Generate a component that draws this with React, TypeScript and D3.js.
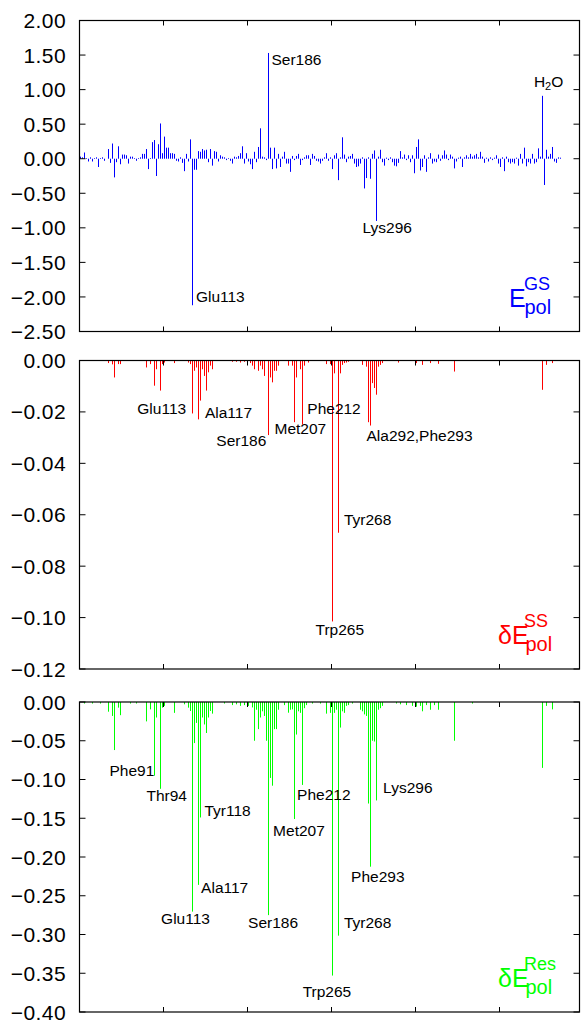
import * as d3 from "d3";

// ground-state polarization per residue (bar index order)
const gsValues = [
  0.03, 0.02, 0.09, 0.01, -0.04, 0.02, -0.04, 0.01, 0.02, -0.12,
  0.01, 0.02, -0.03, 0.0, 0.14, -0.06, 0.22, -0.27, -0.05, 0.18,
  -0.08, 0.06, 0.06, 0.05, -0.07, 0.03, 0.03, 0.01, -0.03, 0.01,
  0.02, 0.07, 0.07, 0.14, -0.15, 0.01, 0.24, 0.27, -0.25, 0.21,
  0.51, 0.08, 0.32, 0.16, 0.16, 0.08, 0.08, 0.07, -0.03, -0.04,
  0.02, -0.06, -0.18, 0.07, -0.04, 0.28, -2.12, -0.16, -0.16, 0.11,
  0.1, 0.14, 0.12, 0.13, -0.05, 0.14, -0.1, 0.11, 0.1, -0.04,
  0.05, 0.03, 0.02, -0.02, 0.01, -0.03, -0.07, 0.03, 0.02, 0.04,
  0.08, 0.18, -0.07, 0.08, -0.04, -0.08, -0.15, 0.1, -0.05, 0.17,
  0.44, 0.03, 0.02, -0.02, 1.53, 0.16, -0.15, 0.16, -0.14, 0.07,
  -0.12, 0.03, 0.1, -0.07, -0.07, -0.19, 0.04, -0.02, 0.04, 0.07,
  -0.09, -0.02, 0.02, 0.05, 0.05, -0.09, 0.07, 0.04, -0.03, -0.04,
  -0.07, -0.03, 0.02, 0.08, -0.03, 0.02, -0.15, 0.05, 0.08, -0.31,
  0.02, 0.31, 0.06, -0.05, 0.03, 0.04, 0.07, -0.07, -0.12, -0.11,
  -0.07, 0.02, -0.43, -0.28, 0.02, -0.29, 0.07, 0.12, -0.9, 0.03,
  0.13, -0.05, -0.1, 0.015, -0.02, 0.02, -0.05, -0.1, -0.11, -0.06,
  0.11, 0.02, 0.06, -0.02, 0.05, -0.05, 0.05, -0.21, 0.17, 0.28,
  -0.17, -0.12, 0.05, -0.19, 0.02, 0.08, -0.07, -0.04, -0.05, 0.06,
  -0.03, 0.05, 0.12, 0.06, -0.02, 0.06, 0.03, -0.14, -0.04, 0.015,
  0.03, -0.12, 0.02, 0.05, 0.02, 0.07, 0.03, 0.05, 0.07, 0.02,
  0.1, 0.03, -0.06, 0.015, -0.04, 0.02, -0.02, 0.015, 0.05, -0.07,
  -0.12, 0.02, -0.18, 0.03, -0.05, -0.07, -0.05, -0.07, 0.015, -0.1,
  0.07, -0.07, 0.16, -0.11, -0.05, -0.07, 0.07, -0.07, -0.05, 0.15,
  0.03, 0.91, -0.38, 0.13, 0.03, 0.07, 0.17, -0.04, -0.06, 0.02,
  0.015,
];

// [bar index, value] — only non-zero bars
const ssBars: [number, number][] = [
  [14, -0.001], [16, -0.0015], [17, -0.0066], [19, -0.0014], [20, -0.0014],
  [33, -0.0027], [35, -0.0014], [37, -0.0098], [38, -0.0034], [40, -0.0117],
  [41, -0.0014], [42, -0.0008], [47, -0.001], [54, -0.0008], [55, -0.0014],
  [56, -0.0206], [57, -0.004], [58, -0.0027], [59, -0.0229], [60, -0.0156],
  [61, -0.0034], [62, -0.006], [63, -0.0117], [64, -0.0046], [65, -0.002],
  [66, -0.0034], [76, -0.0005], [78, -0.0005], [80, -0.0008], [82, -0.0005],
  [85, -0.001], [86, -0.002], [87, -0.0034], [89, -0.004], [90, -0.002],
  [91, -0.0034], [92, -0.006], [94, -0.029], [95, -0.0066], [96, -0.0085],
  [97, -0.004], [98, -0.004], [99, -0.002], [104, -0.002], [106, -0.002],
  [107, -0.024], [108, -0.0066], [110, -0.0034], [111, -0.0249], [112, -0.002],
  [114, -0.0008], [123, -0.0014], [125, -0.0014], [126, -0.1015], [127, -0.005],
  [129, -0.067], [130, -0.005], [131, -0.0017], [132, -0.001], [133, -0.0008],
  [134, -0.0005], [141, -0.0017], [143, -0.0024], [144, -0.024], [145, -0.0253],
  [146, -0.0088], [147, -0.0107], [148, -0.0133], [149, -0.0024], [150, -0.0017],
  [151, -0.001], [159, -0.0008], [168, -0.001], [171, -0.0017], [175, -0.001],
  [179, -0.0013], [187, -0.0043], [231, -0.0114], [233, -0.0017], [236, -0.001],
];

const resBars: [number, number][] = [
  [2, -0.002], [6, -0.002], [10, -0.002], [14, -0.0125], [16, -0.018],
  [17, -0.062], [19, -0.0073], [20, -0.017], [25, -0.002], [28, -0.002],
  [33, -0.025], [35, -0.0095], [37, -0.095], [38, -0.02], [40, -0.112],
  [41, -0.0073], [42, -0.005], [47, -0.014], [52, -0.003], [54, -0.0073],
  [55, -0.0116], [56, -0.2705], [57, -0.053], [58, -0.027], [59, -0.236],
  [60, -0.149], [61, -0.02], [62, -0.029], [63, -0.04], [64, -0.02],
  [65, -0.0116], [66, -0.015], [72, -0.002], [76, -0.004], [78, -0.003],
  [80, -0.005], [82, -0.004], [84, -0.005], [86, -0.007], [87, -0.05],
  [88, -0.01], [89, -0.035], [90, -0.02], [91, -0.012], [92, -0.018],
  [93, -0.05], [94, -0.275], [95, -0.098], [96, -0.108], [97, -0.035],
  [98, -0.035], [99, -0.01], [102, -0.004], [104, -0.0138], [105, -0.01],
  [106, -0.0095], [107, -0.151], [108, -0.042], [109, -0.012], [110, -0.014],
  [111, -0.107], [112, -0.008], [113, -0.004], [116, -0.002], [120, -0.002],
  [123, -0.015], [125, -0.014], [126, -0.353], [127, -0.014], [128, -0.01],
  [129, -0.3015], [130, -0.033], [131, -0.012], [132, -0.014], [133, -0.005],
  [134, -0.004], [136, -0.002], [140, -0.01], [141, -0.012], [142, -0.016],
  [143, -0.018], [144, -0.131], [145, -0.2125], [146, -0.05], [147, -0.051],
  [148, -0.127], [149, -0.01], [150, -0.008], [151, -0.005], [158, -0.002],
  [160, -0.003], [163, -0.004], [166, -0.005], [168, -0.006], [170, -0.005],
  [171, -0.012], [173, -0.004], [175, -0.01], [177, -0.004], [179, -0.01],
  [187, -0.05], [196, -0.002], [231, -0.085], [233, -0.005], [236, -0.0095],
];

const gsTicks = [2, 1.5, 1, 0.5, 0, -0.5, -1, -1.5, -2, -2.5];
const ssTicks = [0, -0.02, -0.04, -0.06, -0.08, -0.1, -0.12];
const resTicks = [0, -0.05, -0.1, -0.15, -0.2, -0.25, -0.3, -0.35, -0.4];
const xTicks = [41.5, 83.5, 125.5, 167.5, 209.5];

type Label = { text: string; i: number; v: number };

const gsLabels: Label[] = [
  { text: "Ser186", i: 95.5, v: 1.36 },
  { text: "Glu113", i: 57.7, v: -2.07 },
  { text: "Lys296", i: 141, v: -1.08 },
  { text: "H2O", i: 226.7, v: 1.04 },
];
const ssLabels: Label[] = [
  { text: "Glu113", i: 28.4, v: -0.021 },
  { text: "Ala117", i: 62.2, v: -0.0223 },
  { text: "Ser186", i: 67.9, v: -0.0333 },
  { text: "Met207", i: 97, v: -0.0287 },
  { text: "Phe212", i: 113.4, v: -0.021 },
  { text: "Ala292,Phe293", i: 143, v: -0.0313 },
  { text: "Tyr268", i: 131.7, v: -0.064 },
  { text: "Trp265", i: 117.5, v: -0.1068 },
];
const resLabels: Label[] = [
  { text: "Phe91", i: 14.5, v: -0.0961 },
  { text: "Thr94", i: 33, v: -0.1271 },
  { text: "Tyr118", i: 62, v: -0.1465 },
  { text: "Met207", i: 96.3, v: -0.1724 },
  { text: "Phe212", i: 108.3, v: -0.1262 },
  { text: "Ala117", i: 60.3, v: -0.2468 },
  { text: "Glu113", i: 40.3, v: -0.2864 },
  { text: "Ser186", i: 83.8, v: -0.292 },
  { text: "Trp265", i: 111.1, v: -0.3804 },
  { text: "Lys296", i: 151.3, v: -0.1168 },
  { text: "Phe293", i: 135.3, v: -0.2318 },
  { text: "Tyr268", i: 131.7, v: -0.292 },
];

const FONT = "'Liberation Sans', Arial, Helvetica, sans-serif";
const LEFT = 79.5;
const RIGHT = 579.5;

const x = d3.scaleLinear().domain([-0.5, 249.5]).range([LEFT, RIGHT]);
const fmt = d3.format(".2f");

interface PanelProps {
  bars: [number, number][];
  ticks: number[];
  top: number;
  bottom: number;
  color: string;
  labels: Label[];
  delta: boolean;
  sup: string;
}

function Panel({ bars, ticks, top, bottom, color, labels, delta, sup }: PanelProps) {
  const y = d3
    .scaleLinear()
    .domain([d3.min(ticks) as number, d3.max(ticks) as number])
    .range([bottom, top]);
  const y0 = y(0);
  const lx = RIGHT - (delta ? 81.5 : 70.5);
  const ly = bottom - (delta ? 25 : 24.5);

  return (
    <g>
      {bars.map(([i, v]) => (
        <line
          key={i}
          x1={x(i)}
          x2={x(i)}
          y1={y0}
          y2={y(v)}
          stroke={color}
          strokeWidth={1}
        />
      ))}
      <rect
        x={LEFT}
        y={top}
        width={RIGHT - LEFT}
        height={bottom - top}
        fill="none"
        stroke="#000"
        strokeWidth={1.2}
      />
      {ticks.map((t) => (
        <g key={t}>
          <line x1={LEFT} x2={LEFT + 6} y1={y(t)} y2={y(t)} stroke="#000" />
          <line x1={RIGHT - 6} x2={RIGHT} y1={y(t)} y2={y(t)} stroke="#000" />
          <text
            x={66}
            y={y(t)}
            dy="0.36em"
            textAnchor="end"
            fontSize={21}
            letterSpacing={0.4}
            fontFamily={FONT}
            fill="#000"
          >
            {fmt(t)}
          </text>
        </g>
      ))}
      {xTicks.map((t) => (
        <g key={t}>
          <line x1={x(t)} x2={x(t)} y1={top} y2={top + 5} stroke="#000" />
          <line x1={x(t)} x2={x(t)} y1={bottom - 5} y2={bottom} stroke="#000" />
        </g>
      ))}
      {labels.map((l) =>
        l.text === "H2O" ? (
          <text key={l.text} x={x(l.i)} y={y(l.v)} fontSize={15.5} fontFamily={FONT}>
            H<tspan fontSize={11} dy={3.5}>2</tspan>
            <tspan dy={-3.5}>O</tspan>
          </text>
        ) : (
          <text key={l.text} x={x(l.i)} y={y(l.v)} fontSize={15.5} fontFamily={FONT} fill="#000">
            {l.text}
          </text>
        ),
      )}
      <g fill={color} fontFamily={FONT}>
        <text x={lx} y={ly} fontSize={25}>
          {delta ? "δE" : "E"}
        </text>
        <text x={lx + (delta ? 26 : 15)} y={ly - 17} fontSize={18}>
          {sup}
        </text>
        <text x={lx + (delta ? 27.5 : 15.5)} y={ly + 6.5} fontSize={20}>
          pol
        </text>
      </g>
    </g>
  );
}

export default function App() {
  const gsBars: [number, number][] = gsValues.map((v, i) => [i, v]);
  return (
    <svg
      width={582}
      height={1020}
      style={{ position: "absolute", left: 0, top: 0, background: "#fff" }}
    >
      <Panel
        bars={gsBars}
        ticks={gsTicks}
        top={20.5}
        bottom={331.5}
        color="#0000ff"
        labels={gsLabels}
        delta={false}
        sup="GS"
      />
      <Panel
        bars={ssBars}
        ticks={ssTicks}
        top={360.5}
        bottom={669}
        color="#ff0000"
        labels={ssLabels}
        delta={true}
        sup="SS"
      />
      <Panel
        bars={resBars}
        ticks={resTicks}
        top={702}
        bottom={1012}
        color="#00ff00"
        labels={resLabels}
        delta={true}
        sup="Res"
      />
    </svg>
  );
}
